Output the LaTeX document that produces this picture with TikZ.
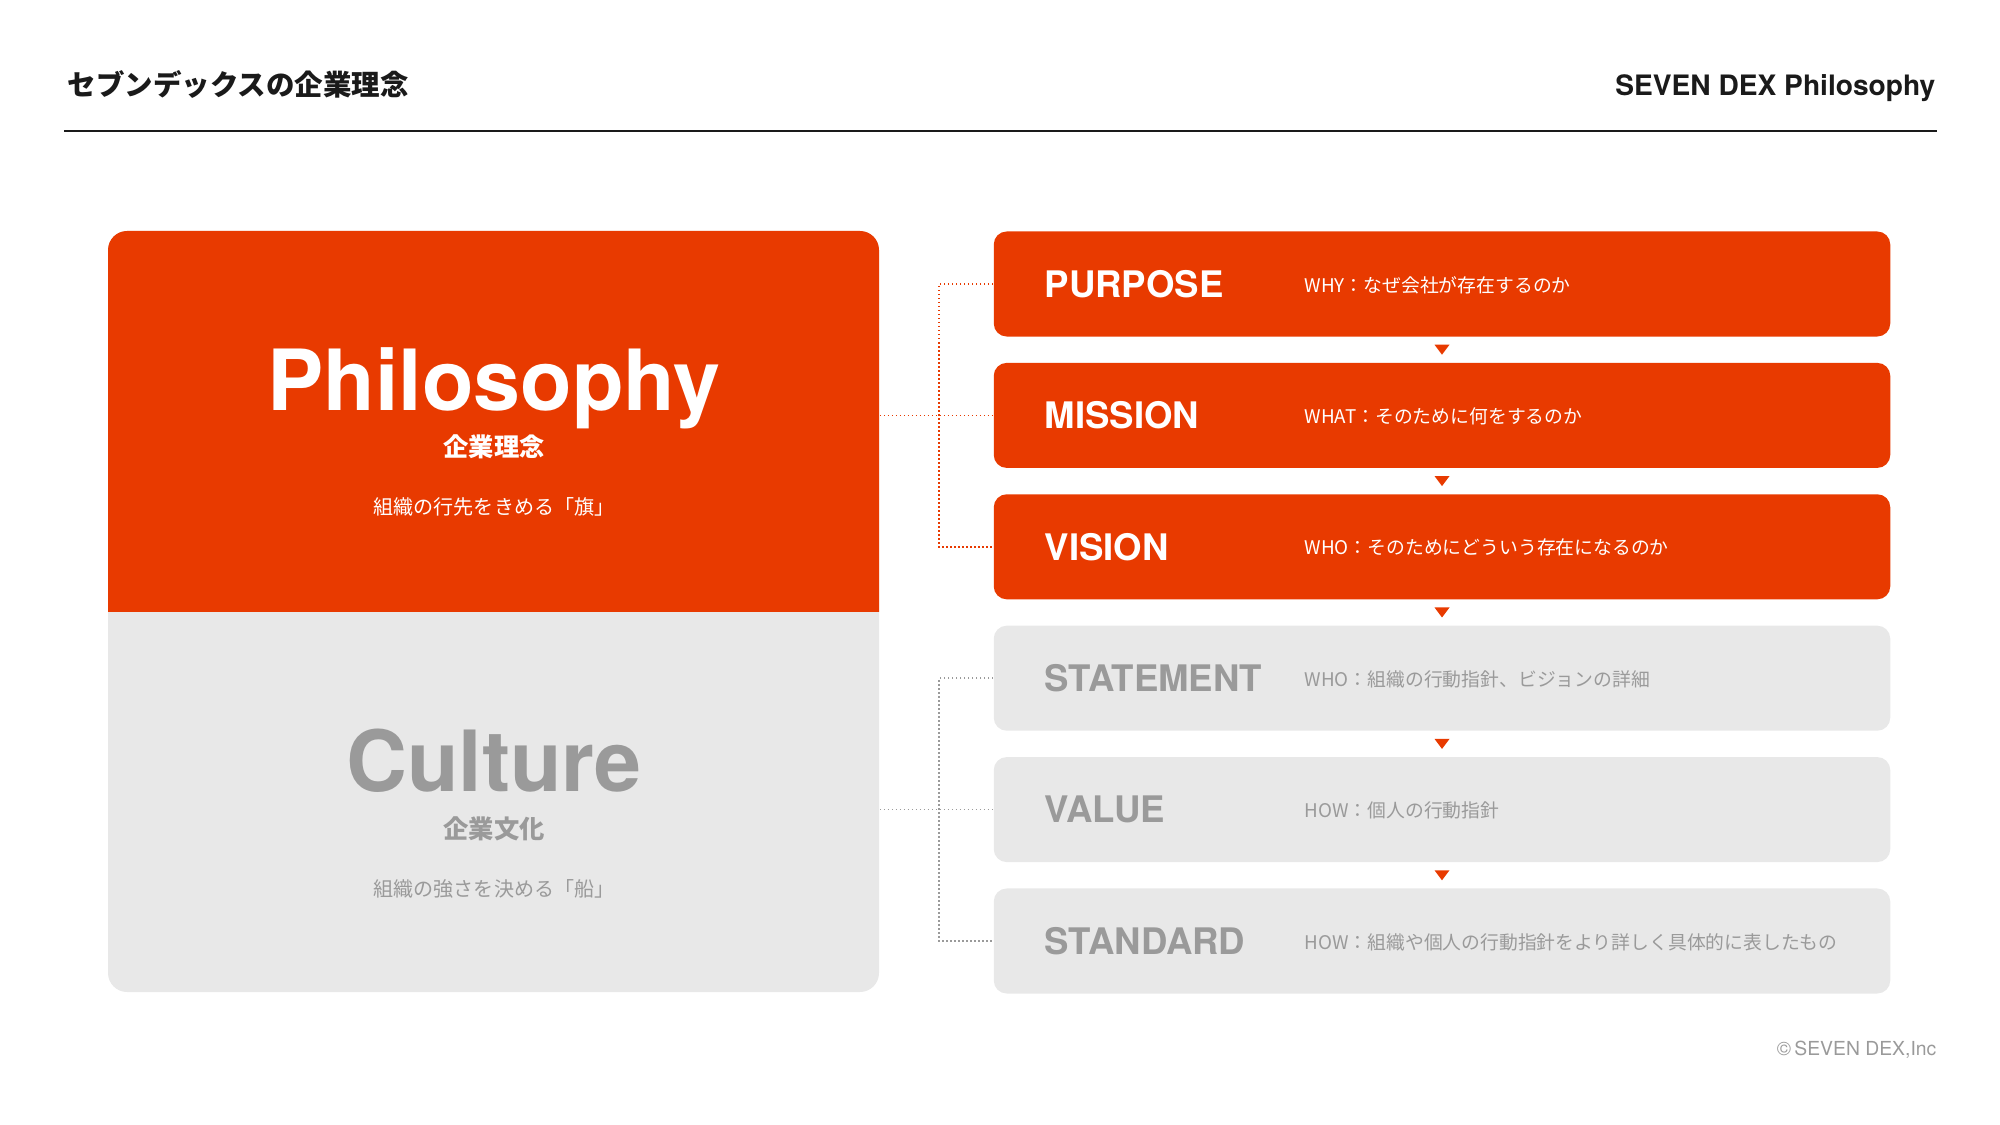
\documentclass[tikz,border=0pt]{standalone}
\usepackage{fontspec}
\setmainfont{TeX Gyre Heros}
\newfontfamily\jp{Noto Sans CJK JP}
\usetikzlibrary{calc}
\definecolor{phred}{HTML}{E83A00}
\definecolor{cultgray}{HTML}{E8E8E8}
\definecolor{txtgray}{HTML}{9A9A9A}
\definecolor{ink}{HTML}{1A1A1A}

\begin{document}
\begin{tikzpicture}[x=0.01cm,y=-0.01cm,
    hdjp/.style={font=\jp\bfseries\fontsize{8.1}{9}\selectfont, text=ink, inner sep=0},
    hden/.style={font=\bfseries\fontsize{8.0}{9}\selectfont, text=ink, inner sep=0},
    bigword/.style={font=\bfseries\fontsize{24}{26}\selectfont, inner sep=0},
    subjp/.style={font=\jp\bfseries\fontsize{7.2}{8}\selectfont, inner sep=0},
    tagjp/.style={font=\jp\fontsize{5.7}{7}\selectfont, inner sep=0},
    redbox/.style={fill=phred, rounded corners=0.13cm, minimum width=8.96cm, minimum height=1.05cm, inner sep=0},
    graybox/.style={fill=cultgray, rounded corners=0.13cm, minimum width=8.96cm, minimum height=1.05cm, inner sep=0},
    boxtitle/.style={font=\bfseries\fontsize{10.4}{12}\selectfont, anchor=west, inner sep=0},
    boxdesc/.style={font=\jp\fontsize{5.35}{6}\selectfont, anchor=west, inner sep=0},
    phdot/.style={phred, line width=0.015cm, dash pattern=on 0.015cm off 0.025cm},
    cudot/.style={txtgray, line width=0.015cm, dash pattern=on 0.015cm off 0.025cm}]
\useasboundingbox (0,0) rectangle (2000,1125);

% header
\node[hdjp, anchor=west] (ttl) at (67,84) {セブンデックスの企業理念};
\node[hden, anchor=base east] (brand) at (1936,96) {SEVEN DEX Philosophy};
\draw[ink, line width=0.025cm] (64,131) -- (1937,131); % rule

% left block
\fill[cultgray, rounded corners=0.19cm] (108,231) rectangle (879,992);
\fill[phred] (108,612) [rounded corners=0.19cm] -- (108,231) -- (879,231) [sharp corners] -- (879,612) -- cycle;
\node[minimum width=7.71cm, minimum height=3.81cm, inner sep=0] (phil) at (493.5,421.5) {};
\node[minimum width=7.71cm, minimum height=3.80cm, inner sep=0] (cult) at (493.5,802) {};

\node[bigword, white, anchor=base] (philw) at (494,411) {Philosophy};
\node[subjp, white] (philj) at (494,447) {企業理念};
\node[tagjp, white] (philt) at (494,507) {組織の行先をきめる「旗」};

\node[bigword, txtgray, anchor=base] (cultw) at (494,791) {Culture};
\node[subjp, txtgray] (cultj) at (494,829) {企業文化};
\node[tagjp, txtgray] (cultt) at (494,889) {組織の強さを決める「船」};

% right boxes
\node[redbox] (purpose) at (1442,284) {};
\node[redbox] (mission) at (1442,415.4) {};
\node[redbox] (vision) at (1442,546.8) {};
\node[graybox] (statement) at (1442,678.2) {};
\node[graybox] (value) at (1442,809.6) {};
\node[graybox] (standard) at (1442,941) {};

\node[boxtitle, white] at (1044,284) {PURPOSE};
\node[boxdesc, white] at (1304,285) {WHY：なぜ会社が存在するのか};
\node[boxtitle, white] at (1044,415.4) {MISSION};
\node[boxdesc, white] at (1304,416.4) {WHAT：そのために何をするのか};
\node[boxtitle, white] at (1044,546.8) {VISION};
\node[boxdesc, white] at (1304,547.8) {WHO：そのためにどういう存在になるのか};
\node[boxtitle, txtgray] at (1044,678.2) {STATEMENT};
\node[boxdesc, txtgray] at (1304,679.2) {WHO：組織の行動指針、ビジョンの詳細};
\node[boxtitle, txtgray] at (1044,809.6) {VALUE};
\node[boxdesc, txtgray] at (1304,810.6) {HOW：個人の行動指針};
\node[boxtitle, txtgray] at (1044,941) {STANDARD};
\node[boxdesc, txtgray] at (1304,942) {HOW：組織や個人の行動指針をより詳しく具体的に表したもの};

% small arrows between boxes
\foreach \a/\b in {purpose/mission, mission/vision, vision/statement, statement/value, value/standard}
  \fill[phred] ($(\a.south)!0.5!(\b.north)$) ++(-7.5,-5) -- ++(15,0) -- ++(-7.5,10) -- cycle;

% dotted brackets
\coordinate (bus) at (939,0);
\draw[phdot] (phil.east |- mission.west) -- (mission.west);
\draw[phdot] (purpose.west) -- (purpose.west -| bus) -- (vision.west -| bus) -- (vision.west);
\draw[cudot] (cult.east |- value.west) -- (value.west);
\draw[cudot] (statement.west) -- (statement.west -| bus) -- (standard.west -| bus) -- (standard.west);

% footer
\node[font=\fontsize{5.5}{6}\selectfont, text=txtgray, anchor=east, inner sep=0] (copy) at (1937,1050) {©\,SEVEN DEX,Inc};
\end{tikzpicture}
\end{document}
